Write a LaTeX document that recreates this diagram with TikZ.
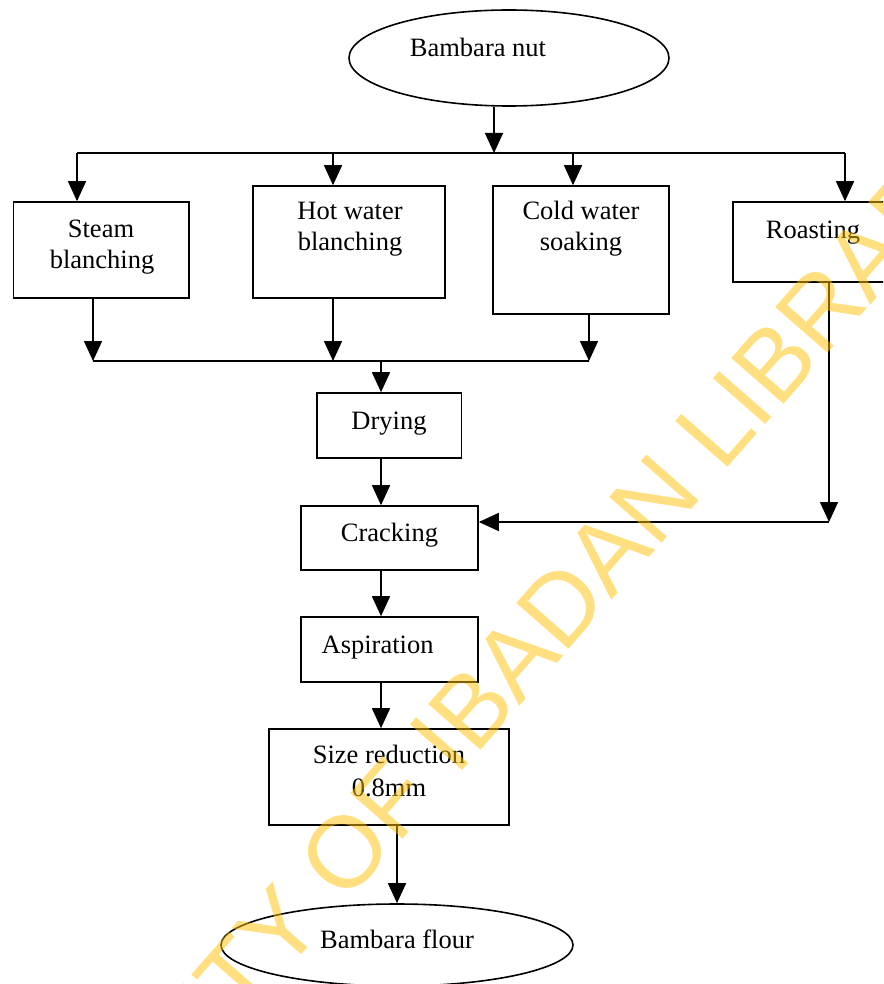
\documentclass[tikz,border=0pt]{standalone}
\usepackage{fontspec}
\setmainfont{Liberation Serif}
\newfontfamily\wmfont{Liberation Sans}
\usetikzlibrary{arrows.meta,shapes.geometric}
\definecolor{wmyellow}{RGB}{255,192,0}
\begin{document}
\begin{tikzpicture}[x=1pt,y=-1pt,
  box/.style={draw, line width=1.6pt, rectangle, inner sep=0pt},
  oval/.style={draw, ellipse, line width=1.6pt, inner sep=0pt},
  lbl/.style={font=\fontsize{26.5}{31}\selectfont, anchor=base, inner sep=0pt},
  arr/.style={-{Triangle[length=20pt,width=18pt]}, line width=1.6pt},
  ln/.style={line width=1.6pt},
  wm/.style={font=\wmfont\fontsize{101}{101}\selectfont, text=wmyellow, text opacity=0.5, rotate=48.8, inner sep=0pt}]
\useasboundingbox (0,0) rectangle (883,984);
\clip (0,0) rectangle (883,984);
% nodes
\node[oval, minimum width=320pt, minimum height=96pt] (nut) at (509,58) {};
\node[lbl] (nutt) at (478,57) {Bambara nut};
\node[box, minimum width=175.5pt, minimum height=96pt] (steam) at (101.25,250) {};
\node[lbl] (steamt1) at (101,237) {Steam};
\node[lbl] (steamt2) at (102,268) {blanching};
\node[box, minimum width=192pt, minimum height=112pt] (hot) at (349,242) {};
\node[lbl] (hott1) at (350,220) {Hot water};
\node[lbl] (hott2) at (350,251) {blanching};
\node[box, minimum width=176pt, minimum height=128pt] (cold) at (581,250) {};
\node[lbl] (coldt1) at (581,220) {Cold water};
\node[lbl] (coldt2) at (581,251) {soaking};
\node[box, minimum width=160pt, minimum height=80pt] (roast) at (813,242) {};
\node[lbl] (roastt) at (813,238) {Roasting};
\node[box, minimum width=144.5pt, minimum height=65pt] (drying) at (389.25,425.5) {};
\node[lbl] (dryingt) at (389,429) {Drying};
\node[box, minimum width=177pt, minimum height=64pt] (cracking) at (389.5,538) {};
\node[lbl] (crackingt) at (389.5,541) {Cracking};
\node[box, minimum width=177pt, minimum height=65pt] (aspiration) at (389.5,649.5) {};
\node[lbl] (aspirationt) at (377.6,653) {Aspiration};
\node[box, minimum width=240pt, minimum height=96pt] (size) at (389,777) {};
\node[lbl] (sizet1) at (389,763) {Size reduction};
\node[lbl] (sizet2) at (389,796) {0.8mm};
\node[oval, minimum width=352pt, minimum height=82pt] (flour) at (397,945) {};
\node[lbl] (flourt) at (397,948) {Bambara flour};
% junction coordinates
\coordinate (top) at (494,153);
\coordinate (hl) at (77,153);
\coordinate (hh) at (333,153);
\coordinate (hc) at (573,153);
\coordinate (hr) at (845,153);
\coordinate (j1) at (93,361);
\coordinate (j2) at (333,361);
\coordinate (j3) at (589,361);
\coordinate (jd) at (381,361);
\coordinate (rc) at (829,522);
% connectors
\draw[arr] (top |- nut.south) -- (top);
\draw[ln] (hl) -- (hr);
\draw[arr] (hl) -- (hl |- steam.north);
\draw[arr] (hh) -- (hh |- hot.north);
\draw[arr] (hc) -- (hc |- cold.north);
\draw[arr] (hr) -- (hr |- roast.north);
\draw[arr] (j1 |- steam.south) -- (j1);
\draw[arr] (j2 |- hot.south) -- (j2);
\draw[arr] (j3 |- cold.south) -- (j3);
\draw[ln] (j1) -- (j3);
\draw[arr] (jd) -- (jd |- drying.north);
\draw[arr] (jd |- drying.south) -- (jd |- cracking.north);
\draw[arr] (rc |- roast.south) -- (rc);
\draw[arr] (rc) -- (cracking.east |- rc);
\draw[arr] (jd |- cracking.south) -- (jd |- aspiration.north);
\draw[arr] (jd |- aspiration.south) -- (jd |- size.north);
\draw[arr] (size.south -| flour.north) -- (flour.north);
% watermark
\node[wm] (wmark) at (441,743) {UNIVERSITY OF IBADAN LIBRARY};
\end{tikzpicture}
\end{document}
